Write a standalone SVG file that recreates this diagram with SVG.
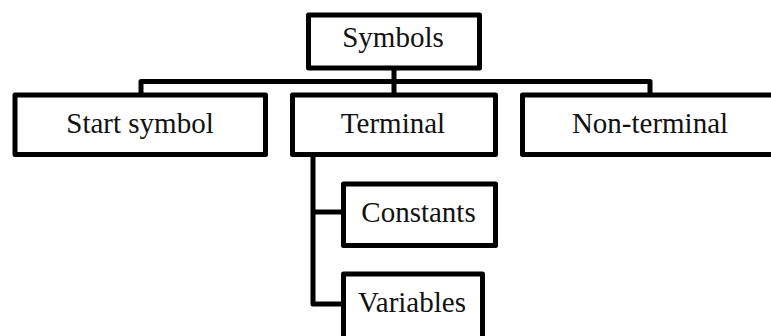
<svg xmlns="http://www.w3.org/2000/svg" width="771" height="336" viewBox="0 0 771 336">
<style>
.box{fill:#fff;stroke:#000;stroke-width:5;stroke-linejoin:round}
.ln{fill:none;stroke:#000;stroke-width:5;stroke-linejoin:round}
text{font-family:"Liberation Serif","DejaVu Serif",serif;font-size:29px;fill:#111;text-anchor:middle}
</style>
<rect width="771" height="336" fill="#fff"/>
<g id="connectors">
<path class="ln" d="M141,95 V81.5 H650 V95"/>
<path class="ln" d="M394,68 V95"/>
<path class="ln" d="M313,154 V304 H344"/>
<path class="ln" d="M313,212 H344"/>
</g>
<g id="symbols"><rect class="box" x="308.5" y="15" width="171" height="53"/><text x="393" y="47">Symbols</text></g>
<g id="start"><rect class="box" x="15" y="95" width="250.5" height="59.5"/><text x="140" y="133">Start symbol</text></g>
<g id="terminal"><rect class="box" x="292.5" y="95" width="203" height="59.5"/><text x="393" y="133">Terminal</text></g>
<g id="nonterminal"><rect class="box" x="522.5" y="95" width="255" height="59.5"/><text x="650" y="133">Non-terminal</text></g>
<g id="constants"><rect class="box" x="343.5" y="184" width="152" height="61.5"/><text x="418.5" y="222">Constants</text></g>
<g id="variables"><rect class="box" x="343.5" y="274" width="139" height="70"/><text x="412" y="312">Variables</text></g>
</svg>
